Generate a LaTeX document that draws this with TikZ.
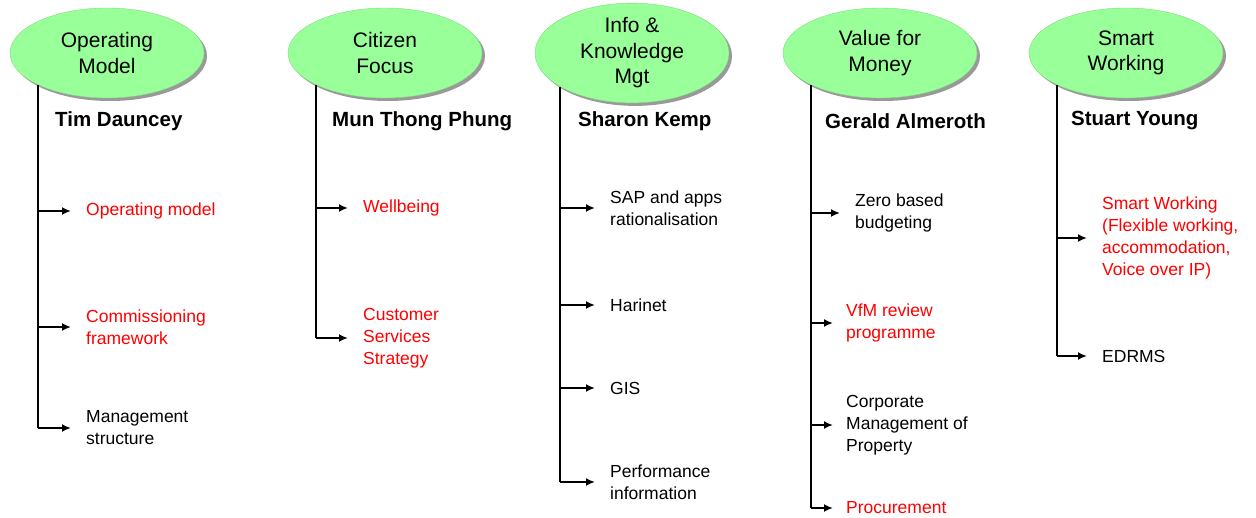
\documentclass[tikz,border=0pt]{standalone}
\usepackage{fontspec}
\setmainfont{Liberation Sans}
\usetikzlibrary{arrows.meta,positioning,shadows,shapes.geometric}
\definecolor{themegreen}{HTML}{99FF99}
\definecolor{taskred}{HTML}{FF0000}

\begin{document}
\begin{tikzpicture}[
    x=1pt,y=-1pt,
    theme/.style  = {ellipse, fill=themegreen, draw=themegreen!85!black,
                     line width=0.4pt, minimum width=194pt, minimum height=90pt,
                     inner sep=0pt, align=center,
                     font=\fontsize{21}{25.5}\selectfont,
                     drop shadow={shadow xshift=3pt,shadow yshift=-3pt,
                                  opacity=1,fill=black!40}},
    lead/.style   = {anchor=west, inner sep=0pt,
                     font=\fontsize{20.5}{25}\selectfont\bfseries},
    task/.style   = {anchor=west, inner sep=0pt, align=left,
                     font=\fontsize{17.5}{22}\selectfont},
    taskr/.style  = {task, text=taskred},
    trunk/.style  = {black, line width=2pt},
    branch/.style = {-{Latex[length=9pt,width=8pt]}, black, line width=2pt,
                     shorten >=15pt},
  ]

  \useasboundingbox (0,0) rectangle (1256,518);

  % themes
  \node[theme] (om)  at (107,53)  {Operating\\Model};
  \node[theme] (cf)  at (385,53)  {Citizen\\Focus};
  \node[theme] (ikm) at (632,53)  {Info \&\\Knowledge\\Mgt};
  \node[theme] (vfm) at (880,53)  {Value for\\Money};
  \node[theme] (sw)  at (1126,53) {Smart\\Working};

  % leads
  \node[lead] (tim)    at (55,121)   {Tim Dauncey};
  \node[lead] (mun)    at (332,121)  {Mun Thong Phung};
  \node[lead] (sharon) at (578,121)  {Sharon Kemp};
  \node[lead] (gerald) at (825,121)  {Gerald Almeroth};
  \node[lead] (stuart) at (1071,121) {Stuart Young};

  % Operating Model
  \node[taskr] (om1) at (86,211) {Operating model};
  \node[taskr] (om2) at (86,327) {Commissioning\\framework};
  \node[task]  (om3) at (86,428) {Management\\structure};

  % Citizen Focus
  \node[taskr] (cf1) at (363,208) {Wellbeing};
  \node[taskr] (cf2) at (363,338) {Customer\\Services\\Strategy};

  % Info & Knowledge Mgt
  \node[task] (ikm1) at (610,208) {SAP and apps\\rationalisation};
  \node[task] (ikm2) at (610,305) {Harinet};
  \node[task] (ikm3) at (610,388) {GIS};
  \node[task] (ikm4) at (610,482) {Performance\\information};

  % Value for Money
  \node[task]  (vfm1) at (855,213) {Zero based\\budgeting};
  \node[taskr] (vfm2) at (846,323) {VfM review\\programme};
  \node[task]  (vfm3) at (846,425) {Corporate\\Management of\\Property};
  \node[taskr] (vfm4) at (846,508) {Procurement};

  % Smart Working
  \node[taskr] (sw1) at (1102,238) {Smart Working\\(Flexible working,\\accommodation,\\Voice over IP)};
  \node[task]  (sw2) at (1102,356) {EDRMS};

  % trunks
  \draw[trunk] (om.205)  -- (om.205 |- om3.west);
  \draw[trunk] (cf.205)  -- (cf.205 |- cf2.west);
  \draw[trunk] (ikm.205) -- (ikm.205 |- ikm4.west);
  \draw[trunk] (vfm.205) -- (vfm.205 |- vfm4.west);
  \draw[trunk] (sw.205)  -- (sw.205 |- sw2.west);

  % branches
  \foreach \t in {om1,om2,om3}     \draw[branch] (om.205 |- \t.west) -- (\t.west);
  \foreach \t in {cf1,cf2}         \draw[branch] (cf.205 |- \t.west) -- (\t.west);
  \foreach \t in {ikm1,ikm2,ikm3,ikm4}
    \draw[branch] (ikm.205 |- \t.west) -- (\t.west);
  \draw[branch] (vfm.205 |- vfm1.west) -- (vfm1.west);
  \foreach \t in {vfm2,vfm3,vfm4}
    \draw[branch,shorten >=13pt] (vfm.205 |- \t.west) -- (\t.west);
  \foreach \t in {sw1,sw2}         \draw[branch] (sw.205 |- \t.west) -- (\t.west);

\end{tikzpicture}
\end{document}
